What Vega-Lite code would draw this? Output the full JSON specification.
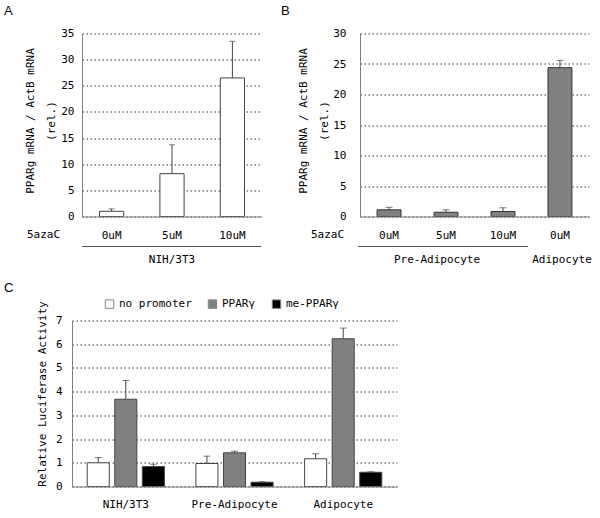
{
  "$schema": "https://vega.github.io/schema/vega-lite/v6.json",
  "padding": {"left": 4, "top": 4.5, "right": 5, "bottom": 5},
  "columns": 1,
  "align": "none",
  "spacing": 16,
  "resolve": {"scale": {"color": "independent"}},
  "concat": [
    {
      "hconcat": [
        {
          "width": 180,
          "height": 183,
          "title": {"text": "A", "anchor": "start", "frame": "group", "dx": -78, "offset": 9.5, "font": "Liberation Sans", "fontSize": 13, "fontWeight": "normal"},
          "data": {"values": [
            {"dose": "0uM", "v": 1.0, "hi": 1.45},
            {"dose": "5uM", "v": 8.2, "hi": 13.7},
            {"dose": "10uM", "v": 26.5, "hi": 33.5}
          ]},
          "encoding": {
            "x": {"field": "dose", "type": "nominal", "sort": null,
              "scale": {"paddingInner": 0.6, "paddingOuter": 0.29},
              "axis": {"title": "5azaC", "titleX": -39, "titleY": 18, "titleBaseline": "middle", "titleAlign": "center", "labelPadding": 13, "labelAngle": 0, "zindex": 1}}
          },
          "layer": [
            {
              "mark": {"type": "bar", "fill": "#ffffff", "stroke": "#444444", "strokeWidth": 1},
              "encoding": {
                "y": {"field": "v", "type": "quantitative", "scale": {"domain": [0, 35]},
                  "axis": {"values": [0, 5, 10, 15, 20, 25, 30, 35], "title": ["PPARg mRNA / ActB mRNA", "(rel.)"], "titlePadding": 4, "titleLineHeight": 21, "titleY": 87, "labelPadding": 8}}
              }
            },
            {
              "mark": {"type": "rule", "color": "#444444"},
              "encoding": {
                "y": {"field": "v", "type": "quantitative",
                  "axis": {"values": [0, 5, 10, 15, 20, 25, 30, 35], "title": ["PPARg mRNA / ActB mRNA", "(rel.)"], "titlePadding": 4, "titleLineHeight": 21, "titleY": 87, "labelPadding": 8}},
                "y2": {"field": "hi"}
              }
            },
            {
              "mark": {"type": "tick", "color": "#444444", "size": 6, "thickness": 1},
              "encoding": {
                "y": {"field": "hi", "type": "quantitative",
                  "axis": {"values": [0, 5, 10, 15, 20, 25, 30, 35], "title": ["PPARg mRNA / ActB mRNA", "(rel.)"], "titlePadding": 4, "titleLineHeight": 21, "titleY": 87, "labelPadding": 8}}
              }
            },
            {
              "data": {"values": [{"from": "0uM", "to": "10uM", "grp": "NIH/3T3", "mid": "5uM"}]},
              "layer": [
                {
                  "mark": {"type": "rule", "color": "#555555"},
                  "encoding": {
                    "x": {"field": "from", "type": "nominal", "bandPosition": -0.72},
                    "x2": {"field": "to", "bandPosition": 1.69},
                    "y": {"datum": -5.74, "type": "quantitative",
                      "axis": {"values": [0, 5, 10, 15, 20, 25, 30, 35], "title": ["PPARg mRNA / ActB mRNA", "(rel.)"], "titlePadding": 4, "titleLineHeight": 21, "titleY": 87, "labelPadding": 8}}
                  }
                },
                {
                  "mark": {"type": "text", "font": "DejaVu Sans Mono", "fontSize": 11, "baseline": "middle", "color": "#000000"},
                  "encoding": {
                    "x": {"field": "mid", "type": "nominal"},
                    "y": {"datum": -8.4, "type": "quantitative",
                      "axis": {"values": [0, 5, 10, 15, 20, 25, 30, 35], "title": ["PPARg mRNA / ActB mRNA", "(rel.)"], "titlePadding": 4, "titleLineHeight": 21, "titleY": 87, "labelPadding": 8}},
                    "text": {"field": "grp"}
                  }
                }
              ]
            }
          ]
        },
        {
          "width": 229,
          "height": 183,
          "title": {"text": "B", "anchor": "start", "frame": "group", "dx": -79, "offset": 9.5, "font": "Liberation Sans", "fontSize": 13, "fontWeight": "normal"},
          "data": {"values": [
            {"key": "0uM|Pre", "v": 1.1, "hi": 1.5},
            {"key": "5uM|Pre", "v": 0.7, "hi": 1.1},
            {"key": "10uM|Pre", "v": 0.82, "hi": 1.43},
            {"key": "0uM|Adi", "v": 24.4, "hi": 25.6}
          ]},
          "encoding": {
            "x": {"field": "key", "type": "nominal", "sort": null,
              "scale": {"paddingInner": 0.58, "paddingOuter": 0.3},
              "axis": {"title": "5azaC", "titleX": -33, "titleY": 18, "titleBaseline": "middle", "titleAlign": "center", "labelPadding": 13, "labelAngle": 0, "zindex": 1, "labelExpr": "split(datum.label, '|')[0]"}}
          },
          "layer": [
            {
              "mark": {"type": "bar", "fill": "#808080", "stroke": "#333333", "strokeWidth": 1},
              "encoding": {
                "y": {"field": "v", "type": "quantitative", "scale": {"domain": [0, 30]},
                  "axis": {"values": [0, 5, 10, 15, 20, 25, 30], "title": ["PPARg mRNA / ActB mRNA", "(rel.)"], "titlePadding": 3, "titleLineHeight": 21, "titleY": 87, "labelPadding": 14}}
              }
            },
            {
              "mark": {"type": "rule", "color": "#444444"},
              "encoding": {
                "y": {"field": "v", "type": "quantitative",
                  "axis": {"values": [0, 5, 10, 15, 20, 25, 30], "title": ["PPARg mRNA / ActB mRNA", "(rel.)"], "titlePadding": 3, "titleLineHeight": 21, "titleY": 87, "labelPadding": 14}},
                "y2": {"field": "hi"}
              }
            },
            {
              "mark": {"type": "tick", "color": "#444444", "size": 7, "thickness": 1},
              "encoding": {
                "y": {"field": "hi", "type": "quantitative",
                  "axis": {"values": [0, 5, 10, 15, 20, 25, 30], "title": ["PPARg mRNA / ActB mRNA", "(rel.)"], "titlePadding": 3, "titleLineHeight": 21, "titleY": 87, "labelPadding": 14}}
              }
            },
            {
              "data": {"values": [{"from": "0uM|Pre", "to": "10uM|Pre"}]},
              "mark": {"type": "rule", "color": "#555555"},
              "encoding": {
                "x": {"field": "from", "type": "nominal", "bandPosition": -0.8},
                "x2": {"field": "to", "bandPosition": 1.54},
                "y": {"datum": -4.92, "type": "quantitative",
                  "axis": {"values": [0, 5, 10, 15, 20, 25, 30], "title": ["PPARg mRNA / ActB mRNA", "(rel.)"], "titlePadding": 3, "titleLineHeight": 21, "titleY": 87, "labelPadding": 14}}
              }
            },
            {
              "data": {"values": [{"at": "5uM|Pre", "grp": "Pre-Adipocyte"}]},
              "mark": {"type": "text", "font": "DejaVu Sans Mono", "fontSize": 11, "baseline": "middle", "color": "#000000", "dx": -9},
              "encoding": {
                "x": {"field": "at", "type": "nominal"},
                "y": {"datum": -7.2, "type": "quantitative",
                  "axis": {"values": [0, 5, 10, 15, 20, 25, 30], "title": ["PPARg mRNA / ActB mRNA", "(rel.)"], "titlePadding": 3, "titleLineHeight": 21, "titleY": 87, "labelPadding": 14}},
                "text": {"field": "grp"}
              }
            },
            {
              "data": {"values": [{"at": "0uM|Adi", "grp": "Adipocyte"}]},
              "mark": {"type": "text", "font": "DejaVu Sans Mono", "fontSize": 11, "baseline": "middle", "color": "#000000", "dx": 2},
              "encoding": {
                "x": {"field": "at", "type": "nominal"},
                "y": {"datum": -7.2, "type": "quantitative",
                  "axis": {"values": [0, 5, 10, 15, 20, 25, 30], "title": ["PPARg mRNA / ActB mRNA", "(rel.)"], "titlePadding": 3, "titleLineHeight": 21, "titleY": 87, "labelPadding": 14}},
                "text": {"field": "grp"}
              }
            }
          ]
        }
      ],
      "spacing": 19
    },
    {
      "width": 315,
      "height": 166,
      "title": {"text": "C", "anchor": "start", "frame": "group", "dx": -78, "offset": 4, "font": "Liberation Sans", "fontSize": 13, "fontWeight": "normal"},
      "data": {"values": [
        {"cell": "NIH/3T3", "series": "no promoter", "v": 1.0, "hi": 1.22},
        {"cell": "NIH/3T3", "series": "PPARγ", "v": 3.68, "hi": 4.47},
        {"cell": "NIH/3T3", "series": "me-PPARγ", "v": 0.84, "hi": 0.94},
        {"cell": "Pre-Adipocyte", "series": "no promoter", "v": 0.97, "hi": 1.28},
        {"cell": "Pre-Adipocyte", "series": "PPARγ", "v": 1.42, "hi": 1.49},
        {"cell": "Pre-Adipocyte", "series": "me-PPARγ", "v": 0.18, "hi": 0.2},
        {"cell": "Adipocyte", "series": "no promoter", "v": 1.17, "hi": 1.38},
        {"cell": "Adipocyte", "series": "PPARγ", "v": 6.23, "hi": 6.68},
        {"cell": "Adipocyte", "series": "me-PPARγ", "v": 0.6, "hi": 0.62}
      ]},
      "encoding": {
        "x": {"field": "cell", "type": "nominal", "sort": null,
          "scale": {"paddingInner": 0.29, "paddingOuter": 0.14, "range": [-10, 315]},
          "axis": {"title": null, "labelPadding": 12, "labelAngle": 0, "zindex": 1}},
        "xOffset": {"field": "series", "type": "nominal", "sort": ["no promoter", "PPARγ", "me-PPARγ"],
          "scale": {"paddingInner": 0.2, "paddingOuter": 0}}
      },
      "layer": [
        {
          "mark": {"type": "bar", "stroke": "#444444", "strokeWidth": 1},
          "encoding": {
            "y": {"field": "v", "type": "quantitative", "scale": {"domain": [0, 7]},
              "axis": {"values": [0, 1, 2, 3, 4, 5, 6, 7], "title": "Relative Luciferase Activity", "titlePadding": 8, "titleY": 73, "labelPadding": 10, "offset": 10}},
            "color": {"field": "series", "type": "nominal", "sort": ["no promoter", "PPARγ", "me-PPARγ"],
              "scale": {"domain": ["no promoter", "PPARγ", "me-PPARγ"], "range": ["#ffffff", "#808080", "#000000"]},
              "legend": {"orient": "none", "legendX": 22, "legendY": -22, "direction": "horizontal", "title": null,
                "symbolType": "square", "symbolSize": 72, "symbolStrokeColor": "#888888", "symbolStrokeWidth": 1,
                "labelFont": "DejaVu Sans Mono", "labelFontSize": 11, "labelColor": "#000000", "labelOffset": 4, "columnPadding": 14, "padding": 0}}
          }
        },
        {
          "mark": {"type": "rule", "color": "#444444"},
          "encoding": {
            "y": {"field": "v", "type": "quantitative",
              "axis": {"values": [0, 1, 2, 3, 4, 5, 6, 7], "title": "Relative Luciferase Activity", "titlePadding": 8, "titleY": 73, "labelPadding": 10, "offset": 10}},
            "y2": {"field": "hi"}
          }
        },
        {
          "mark": {"type": "tick", "color": "#444444", "size": 7, "thickness": 1},
          "encoding": {
            "y": {"field": "hi", "type": "quantitative",
              "axis": {"values": [0, 1, 2, 3, 4, 5, 6, 7], "title": "Relative Luciferase Activity", "titlePadding": 8, "titleY": 73, "labelPadding": 10, "offset": 10}}
          }
        }
      ]
    }
  ],
  "config": {
    "view": {"stroke": null},
    "font": "DejaVu Sans Mono",
    "axis": {
      "labelFont": "DejaVu Sans Mono", "labelFontSize": 11, "labelColor": "#000000",
      "titleFont": "DejaVu Sans Mono", "titleFontSize": 11, "titleFontWeight": "normal", "titleColor": "#000000",
      "ticks": false, "domainColor": "#808080", "domainWidth": 1,
      "gridColor": "#333333", "gridDash": [1.5, 2.5], "gridWidth": 1
    },
    "axisX": {"grid": false},
    "axisY": {"grid": true}
  }
}
